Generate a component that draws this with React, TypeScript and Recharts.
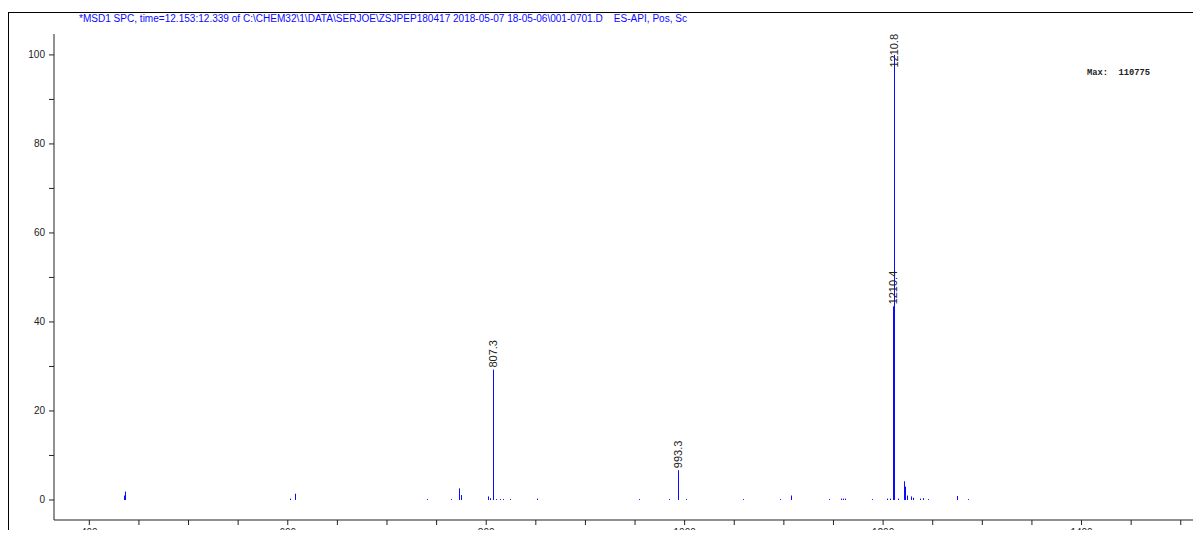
import React from "react";
import { ComposedChart, Bar, XAxis, YAxis, LabelList } from "recharts";

// peak positions (m/z) and relative abundance (%)
const mzValues = [
  435.3, 436, 602, 607.5, 740, 765, 773, 774.5, 802, 804, 807.3, 810, 814, 817, 824, 851.5,
  954, 984.5, 993.3, 1001.5, 1058.5, 1096.5, 1107.5, 1146, 1158, 1160, 1162, 1188.5,
  1204, 1207, 1210.4, 1210.8, 1215.5, 1221.3, 1222.5, 1224, 1228.5, 1230.5, 1237, 1240.5,
  1245.5, 1275, 1286,
];
const abundance = [
  1.0, 1.9, 0.3, 1.4, 0.2, 0.2, 2.6, 1.1, 0.8, 0.4, 29.3, 0.2, 0.2, 0.2, 0.2, 0.3,
  0.2, 0.2, 6.7, 0.2, 0.2, 0.2, 1.0, 0.2, 0.3, 0.3, 0.3, 0.2,
  0.3, 0.3, 43.5, 100, 0.3, 4.2, 3.0, 1.0, 0.8, 0.5, 0.3, 0.4,
  0.2, 0.9, 0.2,
];
const labeledPeaks = ["807.3", "993.3", "1210.4", "1210.8"];

const xTicks = [
  400, 450, 500, 550, 600, 650, 700, 750, 800, 850, 900, 950, 1000, 1050, 1100, 1150,
  1200, 1250, 1300, 1350, 1400, 1450, 1500,
];
const yTicks = [0, 5, 10, 15, 20, 25, 30, 35, 40, 45, 50, 55, 60, 65, 70, 75, 80, 85, 90, 95, 100];

const title =
  "*MSD1 SPC, time=12.153:12.339 of C:\\CHEM32\\1\\DATA\\SERJOE\\ZSJPEP180417 2018-05-07 18-05-06\\001-0701.D    ES-API, Pos, Sc";
const maxText = "Max:  110775";

const data = mzValues.map((mz, i) => ({ mz, intensity: abundance[i] }));

const W = 1201;
const H = 538;
const PLOT_TOP = 34;
const BLUE = "#0a0aff";
const FONT = "'Liberation Sans', Arial, sans-serif";

const XTick = (props: any) => {
  const { x, y, payload } = props;
  if (payload.value % 200 !== 0) return null;
  return (
    <text x={x} y={y + 9} textAnchor="middle" fontSize={10} fill="#222" fontFamily={FONT}>
      {payload.value}
    </text>
  );
};

const YTick = (props: any) => {
  const { x, y, payload } = props;
  if (payload.value % 20 !== 0) return null;
  return (
    <text x={x - 2} y={y} dy={3.5} textAnchor="end" fontSize={10} fill="#222" fontFamily={FONT}>
      {payload.value}
    </text>
  );
};

// stick drawn as a crisp 1px vertical line
const Stick = (props: any) => {
  const { x, y, width, height } = props;
  const cx = Math.round(x + width / 2) + 0.5;
  return <line x1={cx} x2={cx} y1={y} y2={y + height} stroke={BLUE} strokeWidth={1} />;
};

const PeakLabel = (props: any) => {
  const { x, y, width, value } = props;
  const txt = Number(value).toFixed(1);
  if (!labeledPeaks.includes(txt)) return null;
  const cx = Math.round(x + width / 2);
  const len = txt.length * 5.6;
  const y0 = Math.max(y - 2, PLOT_TOP + len);
  return (
    <text
      x={cx}
      y={y0}
      transform={`rotate(-90 ${cx} ${y0})`}
      textAnchor="start"
      dominantBaseline="central"
      fontSize={11}
      fill="#222"
      fontFamily={FONT}
    >
      {txt}
    </text>
  );
};

export default function App() {
  return (
    <div style={{ position: "relative", width: W, height: H, margin: -8, background: "#fff", overflow: "hidden" }}>
      <ComposedChart width={W} height={H} data={data} margin={{ top: PLOT_TOP, right: 0, bottom: 0, left: 0 }}>
        <XAxis
          dataKey="mz"
          type="number"
          domain={[364.4, 1520.4]}
          ticks={xTicks}
          allowDataOverflow
          height={18}
          tickSize={5}
          tickMargin={2}
          tick={<XTick />}
          axisLine={{ stroke: "#222" }}
          tickLine={{ stroke: "#222" }}
        />
        <YAxis
          type="number"
          domain={[-4.5, 104.7]}
          ticks={yTicks}
          allowDataOverflow
          width={54}
          tickSize={5}
          tickMargin={2}
          tick={<YTick />}
          axisLine={{ stroke: "#222" }}
          tickLine={{ stroke: "#222" }}
        />
        <Bar dataKey="intensity" fill={BLUE} barSize={1} shape={<Stick />} isAnimationActive={false}>
          <LabelList dataKey="mz" content={<PeakLabel />} />
        </Bar>
        <text x={1194} y={536} fontSize={10} fill="#222" fontFamily={FONT}>
          m/z
        </text>
      </ComposedChart>
      <svg width={W} height={H} style={{ position: "absolute", left: 0, top: 0, pointerEvents: "none" }}>
        <line x1={8} y1={12.5} x2={W} y2={12.5} stroke="#000" />
        <line x1={8.5} y1={12} x2={8.5} y2={H} stroke="#000" />
        <text
          x={79}
          y={22}
          fontSize={10}
          fill={BLUE}
          fontFamily={FONT}
          textLength={608}
          lengthAdjust="spacingAndGlyphs"
          xmlSpace="preserve"
        >
          {title}
        </text>
        <text
          x={1087}
          y={75}
          fontSize={8.5}
          fontWeight="bold"
          fill="#222"
          fontFamily="'Liberation Mono', 'DejaVu Sans Mono', monospace"
          textLength={63}
          lengthAdjust="spacingAndGlyphs"
          xmlSpace="preserve"
        >
          {maxText}
        </text>
      </svg>
    </div>
  );
}
